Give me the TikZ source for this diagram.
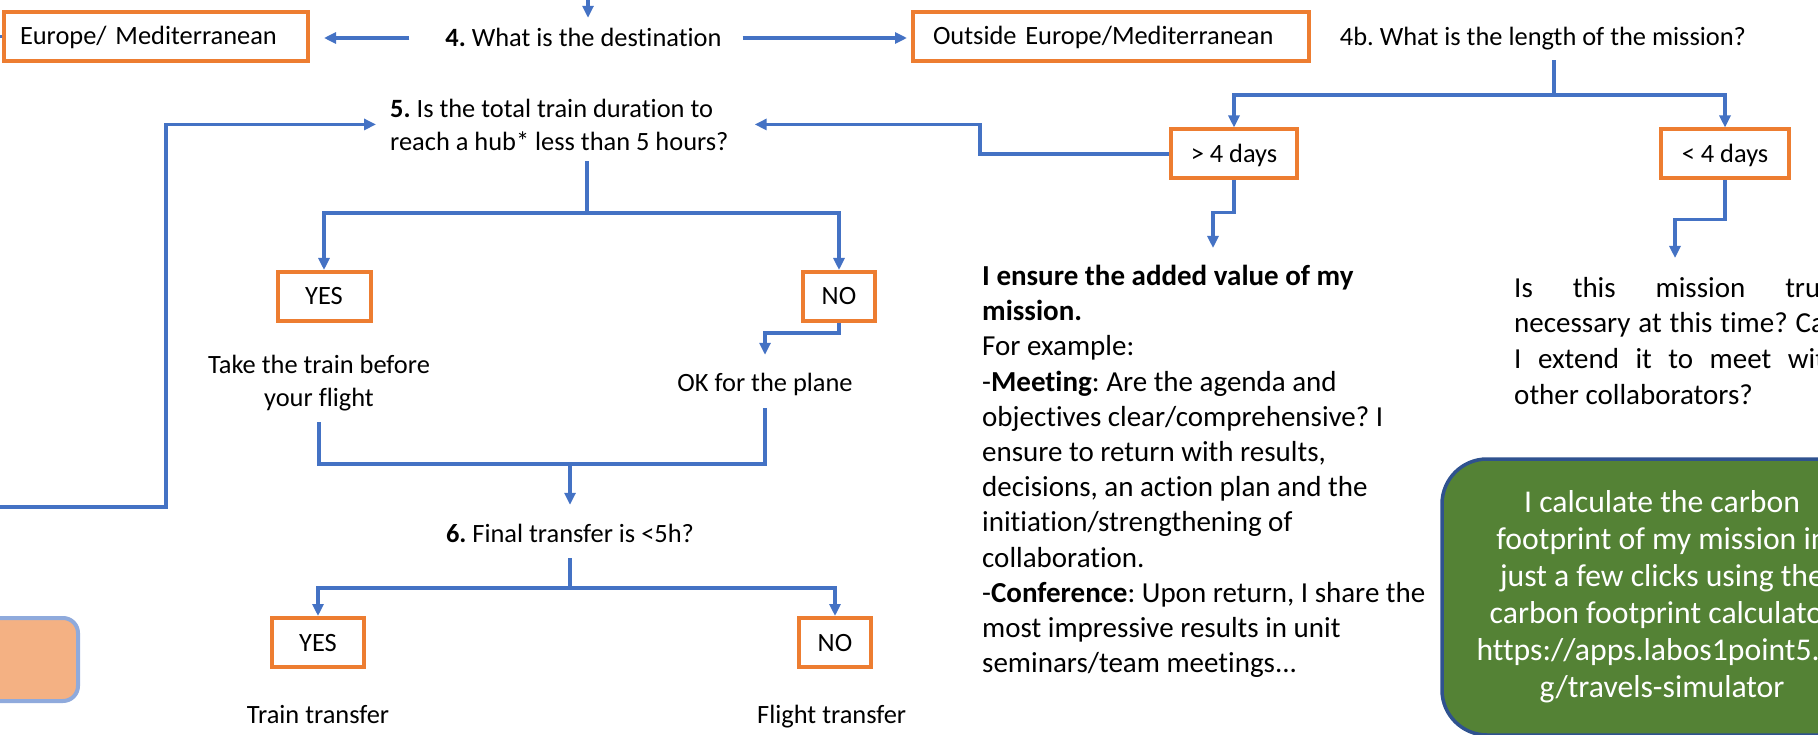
\documentclass[tikz,border=0pt]{standalone}
\usepackage{fontspec}
\setmainfont{Carlito}[Ligatures={NoCommon,NoDiscretionary}]
\usetikzlibrary{positioning}
\usetikzlibrary{arrows.meta}
\setlength{\parindent}{0pt}
\frenchspacing
\definecolor{flowblue}{HTML}{4472C4}
\definecolor{boxorange}{HTML}{ED7D31}
\definecolor{calcgreen}{HTML}{548235}
\definecolor{calcedge}{HTML}{2F528F}
\definecolor{notefill}{HTML}{F4B183}
\definecolor{noteedge}{HTML}{8FAADC}
\newcommand{\lblfont}{\fontsize{26.4}{33}\selectfont}
\newcommand{\parafont}{\fontsize{29}{35.2}\selectfont}
\newcommand{\calcfont}{\fontsize{31.7}{37}\selectfont}
\tikzset{>={Triangle[length=12pt,width=11pt]}}
\tikzset{freetext/.style={inner sep=0pt, font=\lblfont}}
\tikzset{lbl/.style={freetext, text height=17pt, text depth=0pt}}
\tikzset{choice/.style={lbl, draw=boxorange, line width=4pt, minimum height=49pt}}
\tikzset{dest/.style={choice, text width=#1, align=left, inner xsep=20pt}}
\tikzset{flow/.style={draw=flowblue, line width=3.5pt}}
\tikzset{para/.style={inner sep=0pt, anchor=north west, font=\parafont}}
\tikzset{calcbox/.style={fill=calcgreen, draw=calcedge, line width=3.5pt, rounded corners=45pt, minimum width=440pt, minimum height=276pt, text=white, align=center, font=\calcfont}}
\tikzset{notebox/.style={fill=notefill, draw=noteedge, line width=4pt, rounded corners=15pt, minimum width=140pt, minimum height=83pt}}

\begin{document}
\begin{tikzpicture}[x=1pt,y=-1pt]
\useasboundingbox (0,0) rectangle (1818,735);
\clip (0,0) rectangle (1818,735);

\node[calcbox] (carbon) at (1662,597) {I calculate the carbon\\footprint of my mission in\\just a few clicks using the\\carbon footprint calculator\\https://apps.labos1point5.or\\g/travels-simulator};
\node[notebox] (note) at (8,659.5) {};

\node[lbl] (q4) at (583.5,38) {\textbf{4.} What is the destination};
\node[dest=272pt, inner xsep=16pt] (eu) at (156,36.5) {Europe/ Mediterranean};
\node[dest=356pt] (out) at (1111,36.5) {Outside Europe/Mediterranean};
\node[lbl] (b4) at (1543,37) {4b. What is the length of the mission?};
\node[choice, minimum width=126pt] (gt) at (1234,154) {> 4 days};
\node[choice, minimum width=128pt] (lt) at (1725,154) {< 4 days};

\node[freetext, align=left, anchor=north west] (q5) at (390,98.5) {\textbf{5.} Is the total train duration to\\reach a hub* less than 5 hours?};
\node[choice, minimum width=93pt] (yes1) at (324,296.5) {YES};
\node[choice, minimum width=72pt] (no1) at (839,296.5) {NO};
\node[freetext, align=center, anchor=north] (take) at (319,354.7) {Take the train before\\your flight};
\node[lbl] (plane) at (765,383.2) {OK for the plane};

\node[lbl] (q6) at (570,534.2) {\textbf{6.} Final transfer is <5h?};
\node[choice, minimum width=92pt] (yes2) at (318,642.5) {YES};
\node[choice, minimum width=72pt] (no2) at (835,642.5) {NO};
\node[lbl] (train) [below=37pt of yes2] {Train transfer};
\node[lbl, anchor=west] (flight) at (757,714.8) {Flight transfer};

\node[para, align=left] (ens) at (982,265) {\textbf{I ensure the added value of my}\\\textbf{mission.}\\For example:\\-\textbf{Meeting}: Are the agenda and\\objectives clear/comprehensive? I\\ensure to return with results,\\decisions, an action plan and the\\initiation/strengthening of\\collaboration.\\-\textbf{Conference}: Upon return, I share the\\most impressive results in unit\\seminars/team meetings...};
\node[para, text width=326pt, align=justify, font=\fontsize{29}{35.6}\selectfont] (tru) at (1514,277) {\sloppy Is this mission truly\linebreak necessary at this time? Can\linebreak I extend it to meet with\linebreak other collaborators?};

\coordinate (entry) at (588,-10);
\coordinate (j4b) at (1554,95);
\coordinate (j5) at (587,213);
\coordinate (j6) at (570,464);
\coordinate (j6b) at (570,588);
\coordinate (loopin) at (-10,507);

\draw[flow,->,shorten >=11.5pt] (entry) -- (entry |- q4.north);
\draw[flow,->,shorten <=36pt,shorten >=14pt] (q4.west) -- (q4.west -| eu.east);
\draw[flow,->,shorten <=21pt,shorten >=4pt] (q4.east) -- (q4.east -| out.west);
\draw[flow] (eu.west) -- ++(-12,0);

\draw[flow,shorten <=14.5pt] (j4b |- b4.south) -- (j4b);
\draw[flow,->] (j4b) -| (gt);
\draw[flow,->] (j4b) -| (lt);
\draw[flow,->,shorten >=26pt] (gt.west) -- ++(-189,0) |- (q5.east);
\draw[flow,->,shorten >=17pt] (gt.south) -- ++(0,32) -| ([xshift=231pt]ens.north west);
\draw[flow,->,shorten >=19pt] (lt.south) -- ++(0,39) -| ([xshift=161pt]tru.north west);

\draw[flow,->,shorten >=14pt] (loopin) -- ++(176,0) |- (q5.west);
\draw[flow,shorten <=11pt] (j5 |- q5.south) -- (j5);
\draw[flow,->] (j5) -| (yes1);
\draw[flow,->] (j5) -| (no1);
\draw[flow,->,shorten >=19.7pt] (no1.south) -- ++(0,10) -| (plane);

\draw[flow,shorten <=11.4pt,shorten >=16.3pt] (take.south) |- (j6) -| (plane.south);
\draw[flow,->,shorten >=20.7pt] (j6) -- (q6);
\draw[flow,shorten <=15.3pt] (q6.south) -- (j6b);
\draw[flow,->] (j6b) -| (yes2);
\draw[flow,->] (j6b) -| (no2);
\end{tikzpicture}
\end{document}
